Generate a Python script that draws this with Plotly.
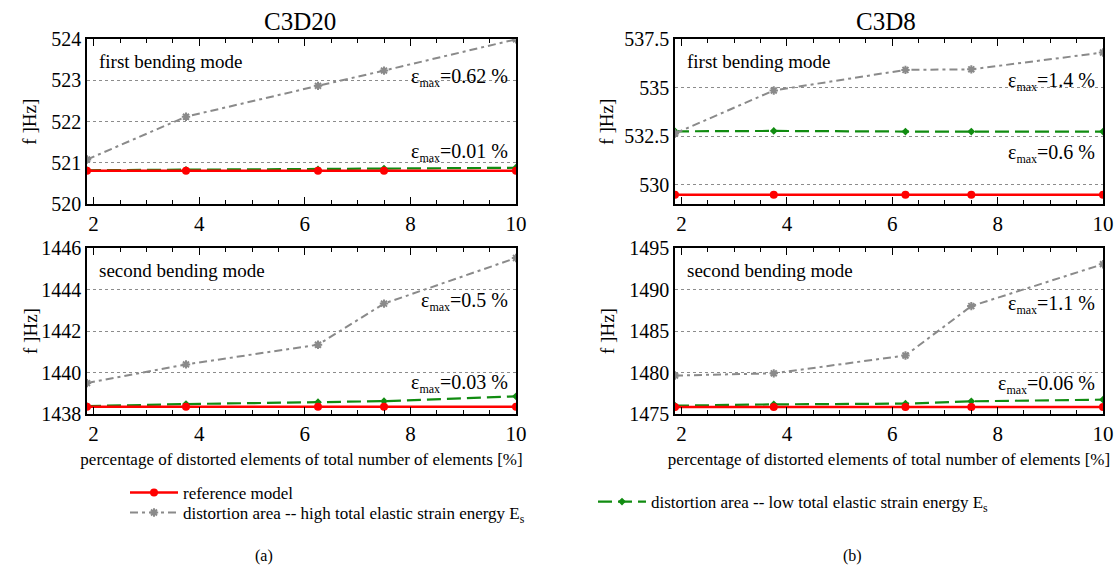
import plotly.graph_objects as go

# ---- data ----
x_pct = [1.875, 3.75, 6.25, 7.5, 10]

ref_20_m1 = [520.81, 520.81, 520.81, 520.81, 520.81]
high_20_m1 = [521.08, 522.12, 522.87, 523.24, 524.0]
low_20_m1 = [520.82, 520.83, 520.84, 520.86, 520.88]

ref_20_m2 = [1438.35, 1438.35, 1438.35, 1438.35, 1438.35]
high_20_m2 = [1439.49, 1440.39, 1441.34, 1443.32, 1445.52]
low_20_m2 = [1438.38, 1438.48, 1438.57, 1438.62, 1438.85]

ref_8_m1 = [529.48, 529.48, 529.48, 529.48, 529.48]
high_8_m1 = [532.64, 534.86, 535.92, 535.95, 536.82]
low_8_m1 = [532.75, 532.77, 532.74, 532.74, 532.74]

ref_8_m2 = [1475.85, 1475.85, 1475.85, 1475.85, 1475.85]
high_8_m2 = [1479.63, 1479.90, 1482.05, 1488.0, 1493.05]
low_8_m2 = [1476.0, 1476.16, 1476.25, 1476.53, 1476.73]

names = ["reference model",
         "distortion area -- high total elastic strain energy E<sub>s</sub>",
         "distortion area -- low total elastic strain energy E<sub>s</sub>"]

eps_labels = {
    "x": [("0.62", 523.08), ("0.01", 521.25)],
    "x2": [("1.4", 535.33), ("0.6", 531.61)],
    "x3": [("0.5", 1443.4), ("0.03", 1439.47)],
    "x4": [("1.1", 1488.2), ("0.06", 1478.55)],
}

FONT = "Liberation Serif"
W, H = 1118, 578
RED = "#ff0000"
GRAY = "#8a8a8a"
GREEN = "#118c11"

fig = go.Figure()

panels = [
    ("x", "y", ref_20_m1, high_20_m1, low_20_m1),
    ("x2", "y2", ref_8_m1, high_8_m1, low_8_m1),
    ("x3", "y3", ref_20_m2, high_20_m2, low_20_m2),
    ("x4", "y4", ref_8_m2, high_8_m2, low_8_m2),
]

for i, (xa, ya, r, hi, lo) in enumerate(panels):
    first = i == 0
    fig.add_trace(go.Scatter(
        x=x_pct, y=lo, xaxis=xa, yaxis=ya, mode="lines+markers", name=names[2],
        line=dict(color=GREEN, width=2.2, dash="14px,6px"),
        marker=dict(symbol="diamond", size=6, color=GREEN),
        showlegend=first, legend="legend2"))
    fig.add_trace(go.Scatter(
        x=x_pct, y=hi, xaxis=xa, yaxis=ya, mode="lines+markers", name=names[1],
        line=dict(color=GRAY, width=2, dash="8px,4px,3px,4px"),
        marker=dict(symbol="asterisk-open", size=7, line=dict(color=GRAY, width=2)),
        showlegend=first, legend="legend3"))
    fig.add_trace(go.Scatter(
        x=x_pct, y=r, xaxis=xa, yaxis=ya, mode="lines+markers", name=names[0],
        line=dict(color=RED, width=2.5),
        marker=dict(symbol="circle", size=8, color=RED),
        showlegend=first, legend="legend"))

def px_x(p):
    return p / W

def px_y(p):
    return 1 - p / H

xdom_l = [px_x(87), px_x(516)]
xdom_r = [px_x(675), px_x(1103)]
ydom_t = [px_y(204), px_y(39.3)]
ydom_b = [px_y(414), px_y(248)]

xtitle = "percentage of distorted elements of total number of elements [%]"

def xaxis(dom, anchor, title):
    d = dict(domain=dom, anchor=anchor, range=[1.875, 10], tickvals=[2, 4, 6, 8, 10],
             ticks="inside", ticklen=7, tickwidth=1.2, tickcolor="black",
             minor=dict(dtick=0.5, tick0=0, ticks="inside", ticklen=4, tickcolor="black"),
             showline=True, linecolor="black", linewidth=1.5, mirror="ticks",
             showgrid=False, zeroline=False, automargin=False,
             tickfont=dict(family=FONT, size=21, color="black"))
    if title:
        d["title"] = dict(text=xtitle, font=dict(family=FONT, size=17, color="black"), standoff=8)
    return d

def yaxis(dom, anchor, rng, tick0, dtick):
    return dict(domain=dom, anchor=anchor, range=rng, tick0=tick0, dtick=dtick,
                ticks="", showline=True, linecolor="black", linewidth=1.5, mirror=True,
                showgrid=True, gridcolor="#8c8c8c", gridwidth=1, griddash="dot",
                zeroline=False, automargin=False,
                tickfont=dict(family=FONT, size=20, color="black"))

SUB = '<sub><span style="font-size:12px">max</span></sub>'

annotations = []
for xa, ya in [("x", "y"), ("x2", "y2"), ("x3", "y3"), ("x4", "y4")]:
    for val, yv in eps_labels[xa]:
        annotations.append(dict(
            x=10, y=yv, xref=xa, yref=ya, xanchor="right", yanchor="middle",
            text="ε" + SUB + "=" + val + " %", showarrow=False, xshift=-6, yshift=0,
            font=dict(family=FONT, size=20, color="black")))

mode_labels = [("first bending mode", "x domain", "y domain"),
               ("first bending mode", "x2 domain", "y2 domain"),
               ("second bending mode", "x3 domain", "y3 domain"),
               ("second bending mode", "x4 domain", "y4 domain")]
for txt, xr, yr in mode_labels:
    annotations.append(dict(x=0, y=1, xref=xr, yref=yr, xanchor="left", yanchor="middle",
                            xshift=10, yshift=-22, text=txt, showarrow=False,
                            font=dict(family=FONT, size=19, color="black")))

# y-axis titles
for xr, yr, shift in [("x domain", "y domain", -57), ("x2 domain", "y2 domain", -68),
                      ("x3 domain", "y3 domain", -57), ("x4 domain", "y4 domain", -68)]:
    annotations.append(dict(x=0, y=0.5, xref=xr, yref=yr, xanchor="center", yanchor="middle",
                            xshift=shift, text="f ]Hz]", textangle=-90, showarrow=False,
                            font=dict(family=FONT, size=19, color="black")))

annotations += [
    dict(x=px_x(300), y=px_y(21), xref="paper", yref="paper", text="C3D20", showarrow=False,
         xanchor="center", yanchor="middle", font=dict(family=FONT, size=25, color="black")),
    dict(x=px_x(886), y=px_y(21), xref="paper", yref="paper", text="C3D8", showarrow=False,
         xanchor="center", yanchor="middle", font=dict(family=FONT, size=25, color="black")),
    dict(x=px_x(264), y=px_y(556), xref="paper", yref="paper", text="(a)", showarrow=False,
         xanchor="center", yanchor="middle", font=dict(family=FONT, size=16, color="black")),
    dict(x=px_x(853), y=px_y(556), xref="paper", yref="paper", text="(b)", showarrow=False,
         xanchor="center", yanchor="middle", font=dict(family=FONT, size=16, color="black")),
]

def leg(xpx, ypx):
    return dict(x=px_x(xpx), y=px_y(ypx), xanchor="left", yanchor="middle",
                font=dict(family=FONT, size=17, color="black"), bgcolor="rgba(0,0,0,0)",
                itemwidth=48, borderwidth=0)

fig.update_layout(
    width=W, height=H, autosize=False,
    margin=dict(l=0, r=0, t=0, b=0, pad=0, autoexpand=False),
    paper_bgcolor="white", plot_bgcolor="white",
    font=dict(family=FONT, color="black"),
    xaxis=xaxis(xdom_l, "y", False),
    xaxis2=xaxis(xdom_r, "y2", False),
    xaxis3=xaxis(xdom_l, "y3", True),
    xaxis4=xaxis(xdom_r, "y4", True),
    yaxis=yaxis(ydom_t, "x", [520, 524], 520, 1),
    yaxis2=yaxis(ydom_t, "x2", [529, 537.5], 530, 2.5),
    yaxis3=yaxis(ydom_b, "x3", [1438, 1446], 1438, 2),
    yaxis4=yaxis(ydom_b, "x4", [1475, 1495], 1475, 5),
    legend=leg(125, 493),
    legend3=leg(125, 513),
    legend2=leg(593, 502),
    annotations=annotations,
    showlegend=True,
)

fig.write_html("out.html")
